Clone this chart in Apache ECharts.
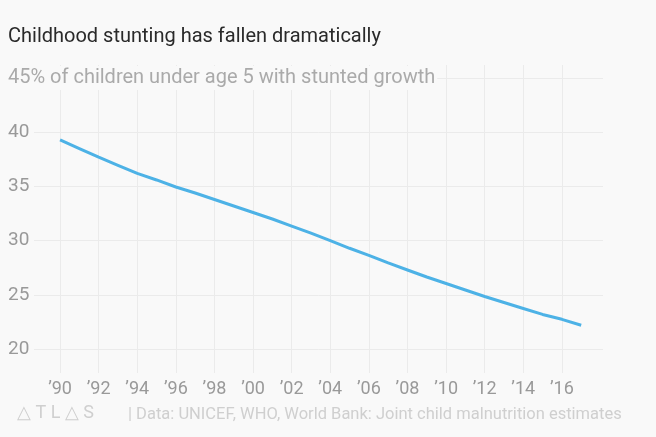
<!DOCTYPE html>
<html>
<head>
<meta charset="utf-8">
<script src="https://cdn.jsdelivr.net/npm/echarts@6/dist/echarts.min.js"></script>
<style>
  html, body { margin: 0; padding: 0; background: #f9f9f9; }
  #chart { width: 656px; height: 437px; }
</style>
</head>
<body>
<div id="chart"></div>
<script>
var years = [1990,1991,1992,1993,1994,1995,1996,1997,1998,1999,2000,2001,2002,2003,2004,2005,2006,2007,2008,2009,2010,2011,2012,2013,2014,2015,2016,2017];
var stunting = [39.3,38.5,37.7,36.95,36.2,35.6,34.95,34.4,33.8,33.2,32.6,32.0,31.35,30.7,30.0,29.3,28.65,27.95,27.3,26.65,26.05,25.45,24.85,24.3,23.75,23.2,22.75,22.2];
var xTicks = [1990,1992,1994,1996,1998,2000,2002,2004,2006,2008,2010,2012,2014,2016];
var yTicks = [20,25,30,35,40,45];
var titleText = 'Childhood stunting has fallen dramatically';
var subtitleText = '45% of children under age 5 with stunted growth';
var sourceText = '| Data: UNICEF, WHO, World Bank: Joint child malnutrition estimates';
var logoText = '△ T L △ S';

var font = 'Roboto, "Noto Sans", sans-serif';
var chart = echarts.init(document.getElementById('chart'));
chart.setOption({
  backgroundColor: '#f9f9f9',
  animation: false,
  title: [
    { text: titleText, left: 8, top: 27, padding: 0,
      textStyle: { fontFamily: font, fontSize: 20, fontWeight: 'normal', color: '#2a2a2a' } },
    { text: subtitleText, left: 6, top: 66, padding: [2, 2, 2, 2], backgroundColor: '#f9f9f9',
      textStyle: { fontFamily: font, fontSize: 20, fontWeight: 'normal', color: '#aaa' } },
    { text: logoText, left: 17, top: 404, padding: 0,
      textStyle: { fontFamily: font, fontSize: 18, fontWeight: 'normal', color: '#cfcfcf' } },
    { text: sourceText, left: 128, top: 406, padding: 0,
      textStyle: { fontFamily: font, fontSize: 16.5, fontWeight: 'normal', color: '#cfcfcf' } }
  ],
  grid: { left: 34, right: 53, top: 65, bottom: 64 },
  xAxis: {
    type: 'value', min: 1988.65, max: 2018.13,
    axisLine: { show: false },
    axisTick: { show: false, customValues: xTicks },
    axisLabel: { customValues: xTicks, margin: 7, color: '#999', fontFamily: font, fontSize: 18,
      formatter: function (v) { return '\u2019' + String(v).slice(2); } },
    splitLine: { show: true, lineStyle: { color: '#ebebeb', width: 1 } }
  },
  yAxis: {
    type: 'value', min: 17.8, max: 46.2,
    axisLine: { show: false },
    axisTick: { show: false, customValues: yTicks },
    axisLabel: { customValues: yTicks, margin: 26, align: 'left', color: '#999', fontFamily: font, fontSize: 19,
      formatter: function (v) { return v === 45 ? '' : String(v); } },
    splitLine: { show: true, lineStyle: { color: '#ebebeb', width: 1 } }
  },
  series: [{
    type: 'line',
    data: years.map(function (y, i) { return [y, stunting[i]]; }),
    showSymbol: false,
    lineStyle: { color: '#4db2e6', width: 3 },
    z: 3
  }]
});
</script>
</body>
</html>
